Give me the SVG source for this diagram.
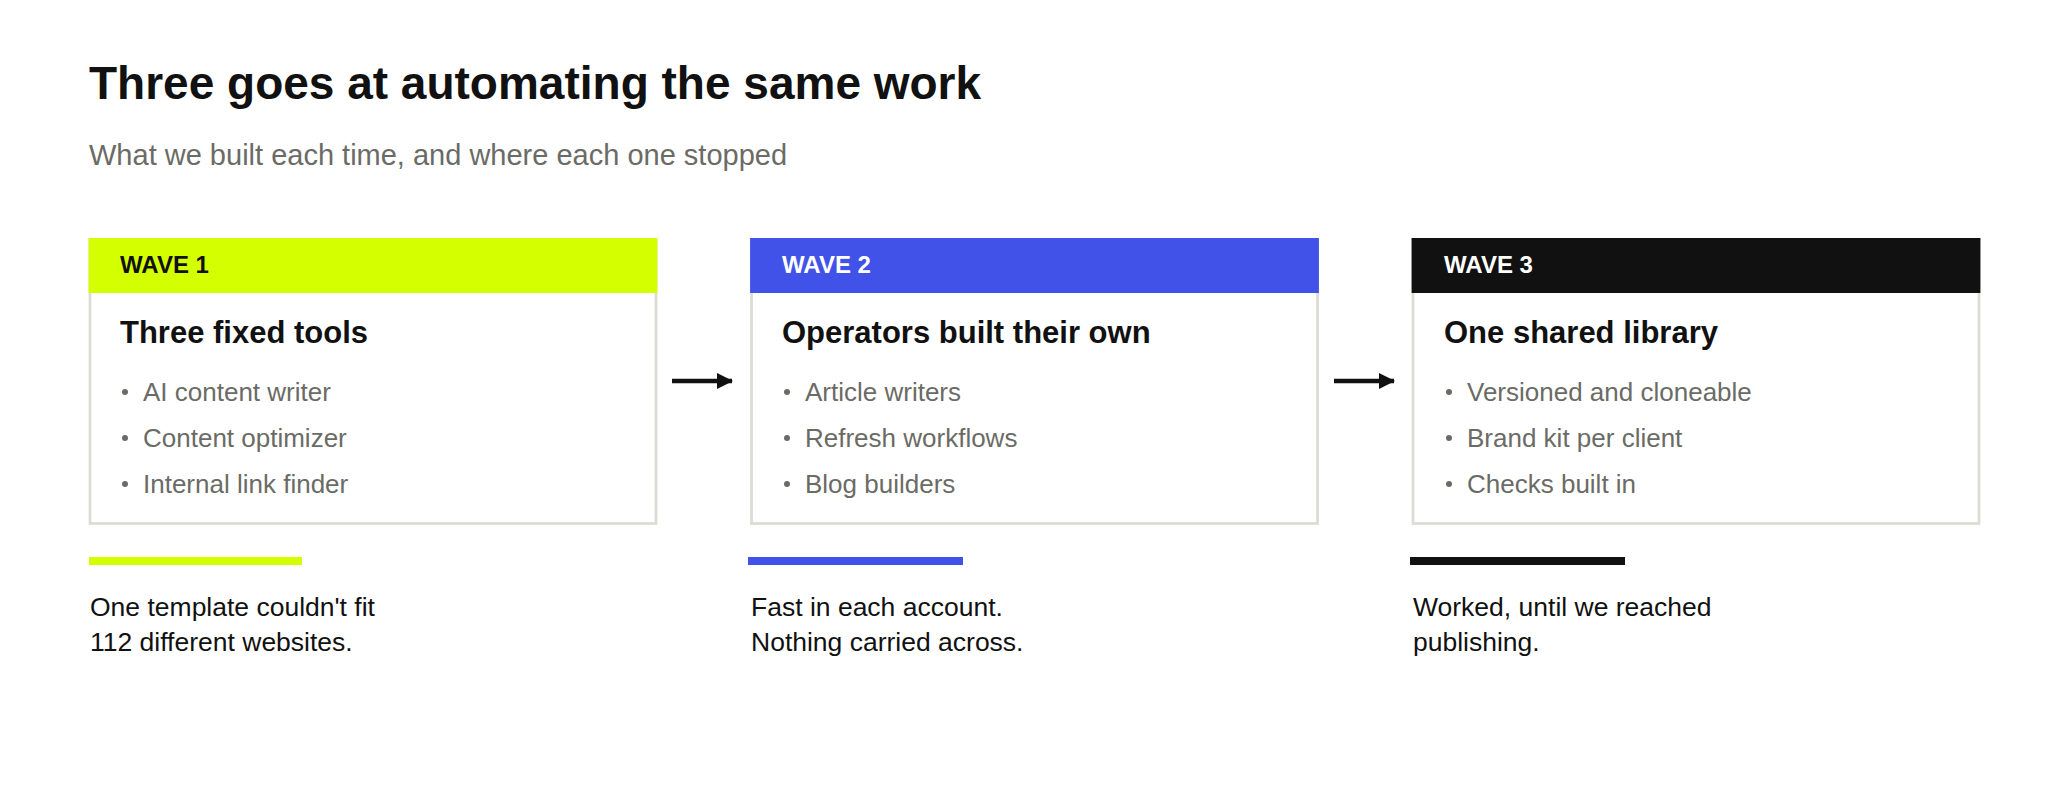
<svg xmlns="http://www.w3.org/2000/svg" width="2045" height="788" viewBox="0 0 2045 788">
  <defs>
    <style>
      text { font-family: "Liberation Sans", Arial, sans-serif; }
      .title { font-size: 46px; font-weight: bold; fill: #111111; }
      .subtitle { font-size: 29px; fill: #6b6b66; }
      .card { fill: #ffffff; stroke: #dddcd4; stroke-width: 2.8; }
      .wave { font-size: 24px; font-weight: bold; }
      .ctitle { font-size: 31px; font-weight: bold; fill: #111111; }
      .item { font-size: 26px; fill: #6b6b66; }
      .dot { fill: #6b6b66; }
      .caption { font-size: 26.5px; fill: #111111; }
      .conn { stroke: #111111; stroke-width: 4.5; fill: none; }
    </style>
    <marker id="arrow" viewBox="0 0 16 16" refX="15" refY="8" markerWidth="16" markerHeight="16" markerUnits="userSpaceOnUse" orient="auto">
      <path d="M0,0 L16,8 L0,16 Z" fill="#111111"/>
    </marker>
  </defs>
  <rect width="2045" height="788" fill="#ffffff"/>

  <g id="header">
    <text class="title" x="89" y="99">Three goes at automating the same work</text>
    <text class="subtitle" x="89" y="165">What we built each time, and where each one stopped</text>
  </g>

  <g id="wave1">
    <rect class="card" x="90" y="239.5" width="566" height="284"/>
    <rect x="88.6" y="238" width="568.8" height="55" fill="#d4ff00"/>
    <text class="wave" x="120" y="273" fill="#111111">WAVE 1</text>
    <text class="ctitle" x="120" y="343">Three fixed tools</text>
    <circle class="dot" cx="125" cy="392" r="3"/>
    <text class="item" x="143" y="401">AI content writer</text>
    <circle class="dot" cx="125" cy="438" r="3"/>
    <text class="item" x="143" y="447">Content optimizer</text>
    <circle class="dot" cx="125" cy="484" r="3"/>
    <text class="item" x="143" y="493">Internal link finder</text>
    <rect x="89" y="557" width="213" height="8" fill="#d4ff00"/>
    <text class="caption" x="90" y="616">One template couldn't fit</text>
    <text class="caption" x="90" y="651">112 different websites.</text>
  </g>

  <g id="wave2">
    <rect class="card" x="751.5" y="239.5" width="566" height="284"/>
    <rect x="750.1" y="238" width="568.8" height="55" fill="#4152e8"/>
    <text class="wave" x="782" y="273" fill="#ffffff">WAVE 2</text>
    <text class="ctitle" x="782" y="343">Operators built their own</text>
    <circle class="dot" cx="787" cy="392" r="3"/>
    <text class="item" x="805" y="401">Article writers</text>
    <circle class="dot" cx="787" cy="438" r="3"/>
    <text class="item" x="805" y="447">Refresh workflows</text>
    <circle class="dot" cx="787" cy="484" r="3"/>
    <text class="item" x="805" y="493">Blog builders</text>
    <rect x="748" y="557" width="215" height="8" fill="#4152e8"/>
    <text class="caption" x="751" y="616">Fast in each account.</text>
    <text class="caption" x="751" y="651">Nothing carried across.</text>
  </g>

  <g id="wave3">
    <rect class="card" x="1413" y="239.5" width="566" height="284"/>
    <rect x="1411.6" y="238" width="568.8" height="55" fill="#111111"/>
    <text class="wave" x="1444" y="273" fill="#ffffff">WAVE 3</text>
    <text class="ctitle" x="1444" y="343">One shared library</text>
    <circle class="dot" cx="1449" cy="392" r="3"/>
    <text class="item" x="1467" y="401">Versioned and cloneable</text>
    <circle class="dot" cx="1449" cy="438" r="3"/>
    <text class="item" x="1467" y="447">Brand kit per client</text>
    <circle class="dot" cx="1449" cy="484" r="3"/>
    <text class="item" x="1467" y="493">Checks built in</text>
    <rect x="1410" y="557" width="215" height="8" fill="#111111"/>
    <text class="caption" x="1413" y="616">Worked, until we reached</text>
    <text class="caption" x="1413" y="651">publishing.</text>
  </g>

  <g id="connectors">
    <line class="conn" x1="672" y1="381" x2="732" y2="381" marker-end="url(#arrow)"/>
    <line class="conn" x1="1334" y1="381" x2="1394" y2="381" marker-end="url(#arrow)"/>
  </g>
</svg>
